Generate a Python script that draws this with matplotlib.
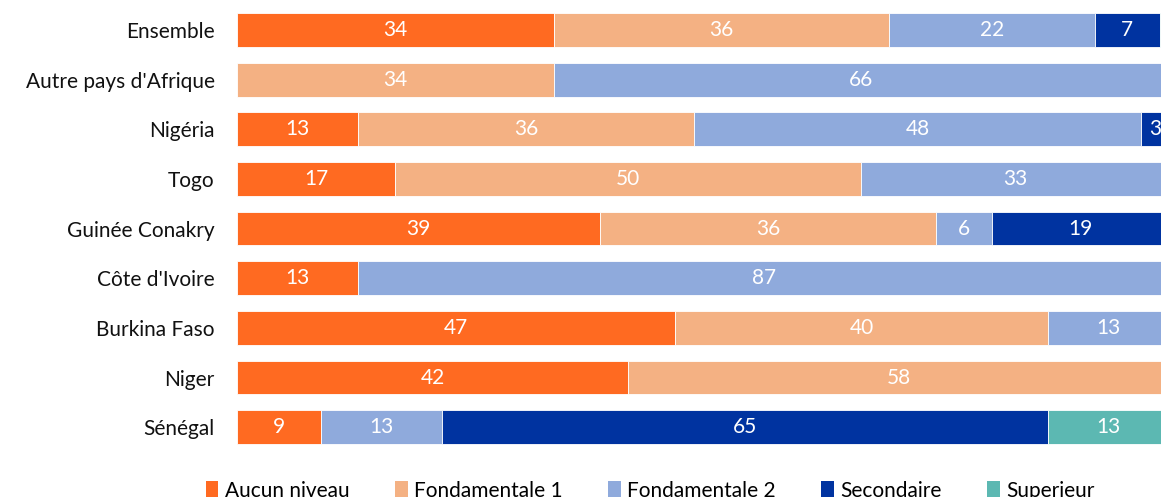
import numpy as np
import matplotlib.pyplot as plt
from matplotlib.patches import Patch

plt.rcParams['font.family'] = ['Lato', 'DejaVu Sans']

countries = ["Ensemble", "Autre pays d'Afrique", "Nigéria", "Togo", "Guinée Conakry",
             "Côte d'Ivoire", "Burkina Faso", "Niger", "Sénégal"]
levels = ["Aucun niveau", "Fondamentale 1", "Fondamentale 2", "Secondaire", "Superieur"]
colors = ["#FF6A21", "#F4B183", "#8FAADC", "#0033A0", "#5CB8B2"]

aucun = [34, 0, 13, 17, 39, 13, 47, 42, 9]
fond1 = [36, 34, 36, 50, 36, 0, 40, 58, 0]
fond2 = [22, 66, 48, 33, 6, 87, 13, 0, 13]
secondaire = [7, 0, 3, 0, 19, 0, 0, 0, 65]
superieur = [1, 0, 0, 0, 0, 0, 0, 0, 13]
series = [aucun, fond1, fond2, secondaire, superieur]

fig = plt.figure(figsize=(11.61, 4.97), dpi=100)
ax = fig.add_axes([0.204, 0.0905, 0.803, 0.899])

y = np.arange(len(countries))[::-1]
left = np.zeros(len(countries))
for vals, col in zip(series, colors):
    vals = np.array(vals, dtype=float)
    bars = ax.barh(y, vals, left=left, height=0.68, color=col,
                   edgecolor="white", linewidth=0.6)
    for b, v in zip(bars, vals):
        if v > 0:
            ax.text(b.get_x() + b.get_width() / 2, b.get_y() + b.get_height() / 2,
                    f"{v:.0f}", ha="center", va="center", color="white", fontsize=15)
    left += vals

ax.set_xlim(0, 100)
ax.set_ylim(-0.5, len(countries) - 0.5)
ax.set_yticks(y)
ax.set_yticklabels(countries, fontsize=15, color="#111111")
ax.tick_params(axis="y", length=0, pad=16)
ax.set_xticks([])
for s in ax.spines.values():
    s.set_visible(False)

handles = [Patch(facecolor=c, label=l) for c, l in zip(colors, levels)]
fig.legend(handles=handles, loc="center", bbox_to_anchor=(0.56, 0.012), ncol=5,
           frameon=False, fontsize=15, handlelength=0.6, handleheight=1.0,
           handletextpad=0.3, columnspacing=2.2)

fig.savefig("out.png", dpi=100)
